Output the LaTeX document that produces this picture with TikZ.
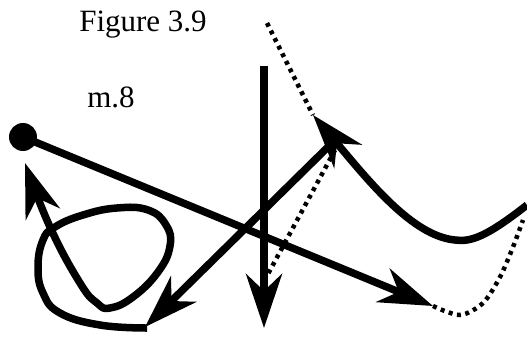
\documentclass[tikz,border=0pt]{standalone}
\usepackage{fontspec}
\setmainfont{Liberation Serif}
\usetikzlibrary{arrows.meta}

\begin{document}
\begin{tikzpicture}[x=1pt,y=-1pt,
every node/.style={font=\fontsize{31}{31}\selectfont,inner sep=0pt},
strand/.style={line width=7.5pt,line join=round,
-{Stealth[length=54pt,width=36pt,inset=17pt]}},
dots/.style={line width=4.5pt,dash pattern=on 4pt off 4.5pt}]
\useasboundingbox (0,0) rectangle (527,337);
\node[anchor=base] (title) at (143,32) {Figure 3.9};
\node[anchor=base] (mark) at (111,107) {m.8};
% ends of the strands
\coordinate (dot) at (23,137);
\coordinate (top) at (264,66);
\coordinate (down) at (264,328);
\coordinate (cross) at (330,145);
\coordinate (low) at (145,327);
\coordinate (peak) at (313,115);
\coordinate (right) at (433,306);
\fill (dot) circle (14);
\draw[strand] (dot) -- (right);
\draw[strand] (top) -- (down);
\draw[strand] (cross) -- (low);
\draw[strand] (527,205) .. controls (485,238) and (470,242) .. (455,240)
  .. controls (412,236) and (368,180) .. (peak);
\draw[strand] plot[smooth,tension=0.75] coordinates {(147,328) (100,325)
  (60,313) (43,293) (38,267) (43,240) (55,227) (83,215) (117,208)
  (148,210) (166,225) (170,246) (158,272) (133,297) (110,308) (97,303)
  (80,283) (50,227) (25,163)};
% dotted parts
\draw[dots] (267,23) -- (peak);
\draw[dots] (335,150) -- (268,274);
\draw[dots] plot[smooth] coordinates {(right) (460,315) (483,303)
  (500,277) (513,247) (523,220)};
\end{tikzpicture}
\end{document}
